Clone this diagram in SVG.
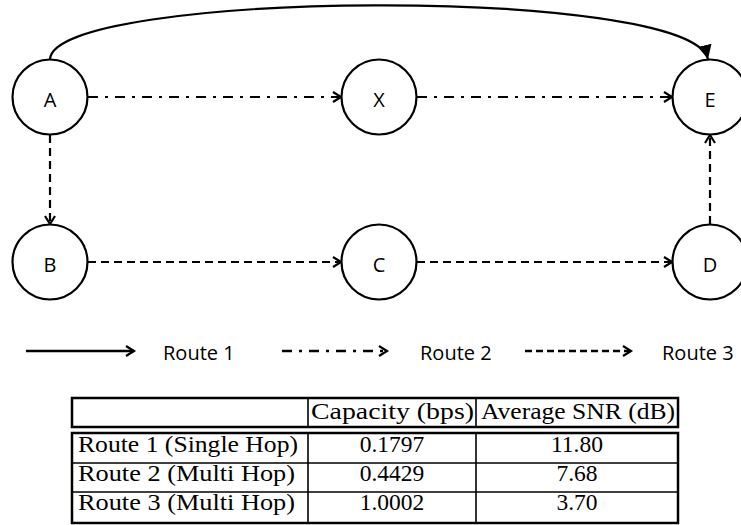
<svg xmlns="http://www.w3.org/2000/svg" width="741" height="525" viewBox="0 0 741 525">
  <style>
    .node circle { fill: #fff; stroke: #000; stroke-width: 2.2; }
    .node text { font-family: "Open Sans", "Liberation Sans", sans-serif; font-size: 20px; text-anchor: middle; fill: #000; }
    .edge { fill: none; stroke: #000; stroke-width: 2.2; }
    .dashdot { stroke-dasharray: 10 7 3 7; }
    .dashed { stroke-dasharray: 8 5; }
    .ldashed { stroke-dasharray: 7 4; }
    .legend .edge { stroke-width: 2.5; }
    .legend text { font-family: "Open Sans", "Liberation Sans", sans-serif; font-size: 20px; fill: #000; }
    .tbl text { font-family: "Liberation Serif", "Times New Roman", serif; font-size: 23.5px; fill: #000; }
    .tbl .c { text-anchor: middle; }
    .outer { fill: none; stroke: #000; stroke-width: 2.5; }
    .inner { fill: none; stroke: #000; stroke-width: 1.6; }
  </style>
  <defs>
    <marker id="open" markerUnits="userSpaceOnUse" markerWidth="14" markerHeight="14" refX="9" refY="6" orient="auto" viewBox="0 0 14 12">
      <path d="M1,1 L9,6 L1,11" fill="none" stroke="#000" stroke-width="2.2" stroke-dasharray="none"/>
    </marker>
    <marker id="filled" markerUnits="userSpaceOnUse" markerWidth="16" markerHeight="16" refX="14" refY="7" orient="auto" viewBox="0 0 16 14">
      <path d="M0,0 L14,7 L0,14 Z" fill="#000" stroke="none"/>
    </marker>
  </defs>

  <g id="connectors">
    <path id="A-E" class="edge" d="M50,59 C55,-10 690,-15 708,59" marker-end="url(#filled)"/>
    <path id="A-X" class="edge dashdot" d="M88,97 L341,97" marker-end="url(#open)"/>
    <path id="X-E" class="edge dashdot" d="M417,97 L672,97" marker-end="url(#open)"/>
    <path id="A-B" class="edge dashed" d="M50,135 L50,224" marker-end="url(#open)"/>
    <path id="B-C" class="edge dashed" d="M88,262 L341,262" marker-end="url(#open)"/>
    <path id="C-D" class="edge dashed" d="M417,262 L672,262" marker-end="url(#open)"/>
    <path id="D-E" class="edge dashed" d="M710,224 L710,135" marker-end="url(#open)"/>
  </g>

  <g id="node-A" class="node"><circle cx="50" cy="97" r="37.5"/><text x="50" y="107">A</text></g>
  <g id="node-X" class="node"><circle cx="379" cy="97" r="37.5"/><text x="379" y="107">X</text></g>
  <g id="node-E" class="node"><circle cx="710" cy="97" r="37.5"/><text x="710" y="107">E</text></g>
  <g id="node-B" class="node"><circle cx="50" cy="262" r="37.5"/><text x="50" y="272">B</text></g>
  <g id="node-C" class="node"><circle cx="379" cy="262" r="37.5"/><text x="379" y="272">C</text></g>
  <g id="node-D" class="node"><circle cx="710" cy="262" r="37.5"/><text x="710" y="272">D</text></g>

  <g id="legend" class="legend">
    <path class="edge" d="M26,351 L134,351" marker-end="url(#open)"/>
    <text x="163" y="360">Route 1</text>
    <path class="edge dashdot" d="M282,351 L387,351" marker-end="url(#open)"/>
    <text x="420" y="360">Route 2</text>
    <path class="edge ldashed" d="M525,351 L631,351" marker-end="url(#open)"/>
    <text x="662" y="360">Route 3</text>
  </g>

  <g id="table" class="tbl">
    <rect class="outer" x="72" y="398" width="606" height="29"/>
    <line class="inner" x1="308" y1="398" x2="308" y2="427"/>
    <line class="inner" x1="476" y1="398" x2="476" y2="427"/>
    <rect class="outer" x="72" y="433" width="606" height="90"/>
    <line class="inner" x1="308" y1="433" x2="308" y2="523"/>
    <line class="inner" x1="476" y1="433" x2="476" y2="523"/>
    <line class="inner" x1="72" y1="463" x2="678" y2="463"/>
    <line class="inner" x1="72" y1="492" x2="678" y2="492"/>
    <text x="311" y="419" textLength="163" lengthAdjust="spacingAndGlyphs">Capacity (bps)</text>
    <text x="481" y="419" textLength="194" lengthAdjust="spacingAndGlyphs">Average SNR (dB)</text>
    <text x="78" y="452" textLength="220" lengthAdjust="spacingAndGlyphs">Route 1 (Single Hop)</text>
    <text x="78" y="481" textLength="217" lengthAdjust="spacingAndGlyphs">Route 2 (Multi Hop)</text>
    <text x="78" y="510" textLength="217" lengthAdjust="spacingAndGlyphs">Route 3 (Multi Hop)</text>
    <text class="c" x="392" y="452">0.1797</text>
    <text class="c" x="392" y="481">0.4429</text>
    <text class="c" x="392" y="510">1.0002</text>
    <text class="c" x="577" y="452">11.80</text>
    <text class="c" x="577" y="481">7.68</text>
    <text class="c" x="577" y="510">3.70</text>
  </g>
</svg>
